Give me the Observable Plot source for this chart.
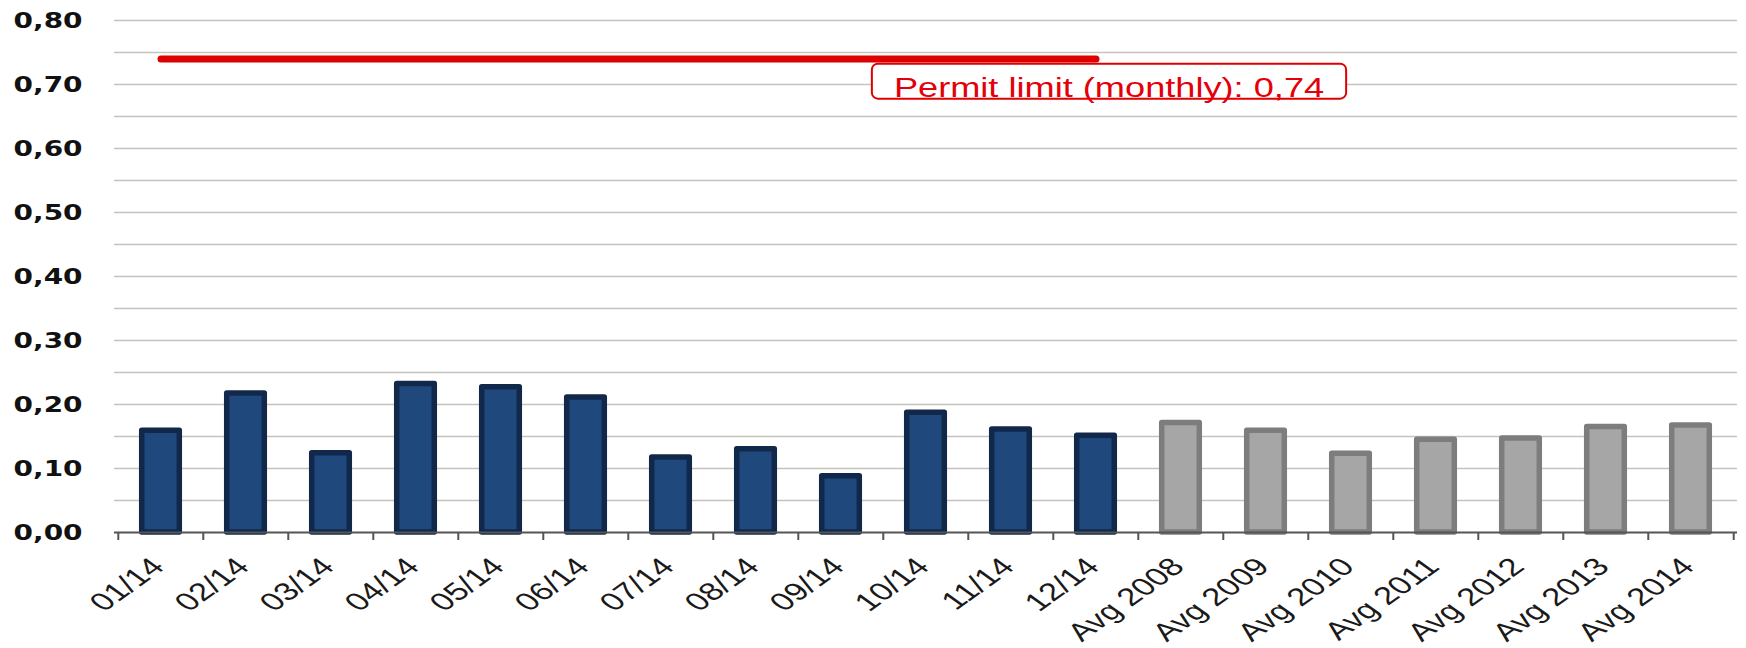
<!DOCTYPE html>
<html>
<head>
<meta charset="utf-8">
<script src="https://cdn.jsdelivr.net/npm/d3@7"></script>
<script src="https://cdn.jsdelivr.net/npm/@observablehq/plot@0.6"></script>
<style>
  body { margin: 0; background: #ffffff; }
  #chart svg { display: block; }
</style>
</head>
<body>
<div id="chart"></div>
<script>
// ---- data ----
const months = ["01/14", "02/14", "03/14", "04/14", "05/14", "06/14", "07/14", "08/14", "09/14", "10/14", "11/14", "12/14"];
const monthValues = [0.159, 0.217, 0.124, 0.232, 0.227, 0.211, 0.117, 0.130, 0.088, 0.187, 0.161, 0.151];
const averages = ["Avg 2008", "Avg 2009", "Avg 2010", "Avg 2011", "Avg 2012", "Avg 2013", "Avg 2014"];
const averageValues = [0.171, 0.159, 0.123, 0.145, 0.147, 0.165, 0.167];
const permitLimit = 0.74;
const permitLabel = "Permit limit (monthly): 0,74";
const yTicks = [0, 0.1, 0.2, 0.3, 0.4, 0.5, 0.6, 0.7, 0.8];
const gridTicks = [0.05, 0.1, 0.15, 0.2, 0.25, 0.3, 0.35, 0.4, 0.45, 0.5, 0.55, 0.6, 0.65, 0.7, 0.75, 0.8];

// ---- layout / style ----
const W = 1746, H = 648;
const ML = 114, MR = 9, MT = 20, MB = 116;
const categories = months.concat(averages);
const step = (W - ML - MR) / categories.length;
const barInset = (step - 38) / 2;
const STRETCH = 1.27;   // text in the reference is drawn horizontally widened
const STRETCH_X = 1.4;  // rotated category labels

const rows = [
  ...months.map((c, i) => ({category: c, value: monthValues[i], fill: "#1f497d", stroke: "#12284a"})),
  ...averages.map((c, i) => ({category: c, value: averageValues[i], fill: "#a6a6a6", stroke: "#7d7d7d"}))
];
const limitLine = [
  {category: months[0], value: permitLimit},
  {category: months[months.length - 1], value: permitLimit}
];
const fmt = d => d.toFixed(2).replace(".", ",");

const chart = Plot.plot({
  width: W,
  height: H,
  marginLeft: ML,
  marginRight: MR,
  marginTop: MT,
  marginBottom: MB,
  style: {background: "#ffffff", overflow: "visible"},
  x: {domain: categories, padding: 0, label: null},
  y: {domain: [0, 0.8], label: null},
  marks: [
    Plot.gridY(gridTicks, {stroke: "#c6c3bb", strokeOpacity: 1, strokeWidth: 1.6}),
    Plot.barY(rows, {
      x: "category", y: "value",
      fill: d => d.fill, stroke: d => d.stroke,
      strokeWidth: 5.5, strokeLinejoin: "round",
      insetLeft: barInset, insetRight: barInset
    }),
    Plot.ruleY([0], {stroke: "#555555", strokeWidth: 2}),
    Plot.axisX({tickSize: 8, dx: -step / 2, fill: "none", stroke: "#555555", strokeWidth: 2, label: null}),
    Plot.axisX([categories[categories.length - 1]], {tickSize: 8, dx: step / 2, fill: "none", stroke: "#555555", strokeWidth: 2, label: null}),
    Plot.axisX({
      tickSize: 0, tickPadding: 30, tickRotate: -45, dx: -3,
      fontSize: 25, fontFamily: "Liberation Sans, Arial, sans-serif",
      fill: "#1a1a1a", label: null
    }),
    Plot.axisY(yTicks, {
      tickSize: 0, tickPadding: 32, tickFormat: fmt,
      fontSize: 22, fontWeight: "bold", fontFamily: "DejaVu Sans, Verdana, sans-serif",
      fill: "#111111", label: null
    }),
    Plot.line(limitLine, {
      x: "category", y: "value",
      stroke: "#dc0000", strokeWidth: 7, strokeLinecap: "round"
    }),
    Plot.text([limitLine[1]], {
      x: "category", y: "value", text: () => permitLabel,
      dx: 13, dy: 29,
      fill: "#e4000b", fontSize: 28.5, fontFamily: "Liberation Sans, Arial, sans-serif"
    })
  ]
});

document.getElementById("chart").append(chart);

// widen text horizontally as in the reference
d3.select(chart).selectAll("text").each(function() {
  const t = this.getAttribute("transform");
  if (t) {
    if (t.includes("rotate(")) this.setAttribute("transform", t.replace("rotate(", `scale(${STRETCH_X},1) rotate(`));
    else this.setAttribute("transform", `${t} scale(${STRETCH},1)`);
  } else {
    const x = +this.getAttribute("x") || 0;
    this.removeAttribute("x");
    this.setAttribute("transform", `translate(${x},0) scale(${STRETCH},1)`);
  }
});

// rounded box behind the permit-limit label
const label = d3.select(chart).selectAll("text").filter(function() { return this.textContent === permitLabel; });
if (!label.empty()) {
  const el = label.node();
  const r = el.getBoundingClientRect();
  const s = chart.getBoundingClientRect();
  const group = el.parentNode;
  const box = document.createElementNS("http://www.w3.org/2000/svg", "rect");
  box.setAttribute("x", r.left - s.left - 22);
  box.setAttribute("y", r.top - s.top - 8);
  box.setAttribute("width", r.width + 44);
  box.setAttribute("height", 35);
  box.setAttribute("rx", 6);
  box.setAttribute("fill", "#ffffff");
  box.setAttribute("stroke", "#e00000");
  box.setAttribute("stroke-width", 2);
  chart.insertBefore(box, group);
}
</script>
</body>
</html>
